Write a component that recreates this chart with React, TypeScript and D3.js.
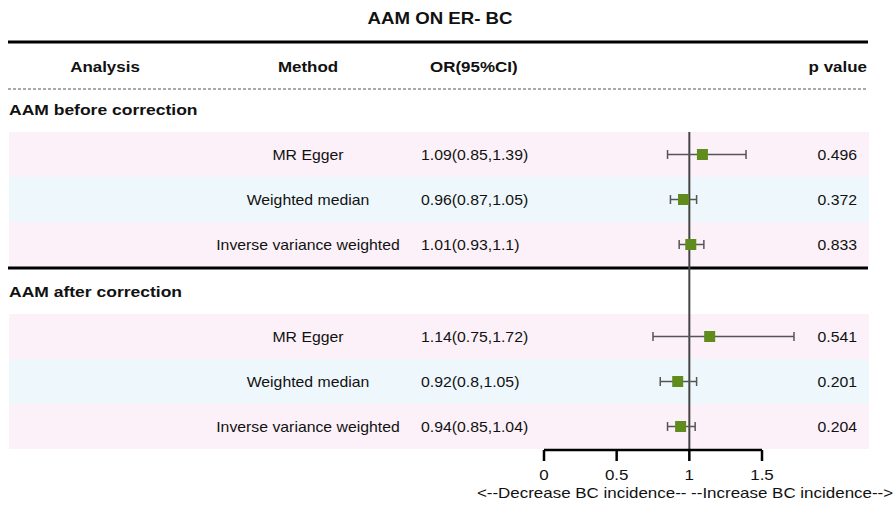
import React from 'react'
import * as d3 from 'd3'

// forest plot data
const groups = ['AAM before correction', 'AAM after correction']
const methods = ['MR Egger', 'Weighted median', 'Inverse variance weighted']
const orBefore = [1.09, 0.96, 1.01]
const lowBefore = [0.85, 0.87, 0.93]
const highBefore = [1.39, 1.05, 1.1]
const pBefore = ['0.496', '0.372', '0.833']
const orAfter = [1.14, 0.92, 0.94]
const lowAfter = [0.75, 0.8, 0.85]
const highAfter = [1.72, 1.05, 1.04]
const pAfter = ['0.541', '0.201', '0.204']
const ciBefore = ['1.09(0.85,1.39)', '0.96(0.87,1.05)', '1.01(0.93,1.1)']
const ciAfter = ['1.14(0.75,1.72)', '0.92(0.8,1.05)', '0.94(0.85,1.04)']
const xTicks = [0, 0.5, 1, 1.5]

const W = 895
const H = 509
const FONT = '"Liberation Sans", Arial, sans-serif'
const SX = 1.13 // the source text is a bit wider than tall
const PINK = '#fcf1f9'
const BLUE = '#eef8fc'
const GREEN = '#5f8c1c'

type Row = { method: string; or: number; lo: number; hi: number; ci: string; p: string }

const T = (props: {
    x: number; y: number; children: React.ReactNode; size?: number; bold?: boolean;
    anchor?: 'start' | 'middle' | 'end'; fill?: string
}) => (
    <text
        transform={`translate(${props.x},${props.y}) scale(${SX},1)`}
        fontFamily={FONT}
        fontSize={props.size ?? 14}
        fontWeight={props.bold ? 'bold' : 'normal'}
        textAnchor={props.anchor ?? 'start'}
        dominantBaseline="central"
        fill={props.fill ?? '#111'}
    >{props.children}</text>
)

export default function App() {
    const x = d3.scaleLinear().domain([0, 1.5]).range([544, 762])
    const bandBefore = d3.scaleBand<string>().domain(methods).range([132, 267])
    const bandAfter = d3.scaleBand<string>().domain(methods).range([314, 449])

    const before: Row[] = methods.map((m, i) => ({ method: m, or: orBefore[i], lo: lowBefore[i], hi: highBefore[i], ci: ciBefore[i], p: pBefore[i] }))
    const after: Row[] = methods.map((m, i) => ({ method: m, or: orAfter[i], lo: lowAfter[i], hi: highAfter[i], ci: ciAfter[i], p: pAfter[i] }))

    const axisY = 450

    const block = (rows: Row[], band: d3.ScaleBand<string>, key: string) => (
        <g key={key}>
            {rows.map((r, i) => {
                const y0 = band(r.method)!
                const h = band.bandwidth()
                const cy = y0 + h / 2
                return (
                    <g key={r.method}>
                        <rect x={9} y={y0} width={860} height={h} fill={i === 1 ? BLUE : PINK} />
                        <T x={308} y={cy} anchor="middle">{r.method}</T>
                        <T x={421} y={cy}>{r.ci}</T>
                        <T x={857} y={cy} anchor="end">{r.p}</T>
                    </g>
                )
            })}
        </g>
    )

    const marks = (rows: Row[], band: d3.ScaleBand<string>, key: string) => (
        <g key={key} stroke="#555" strokeWidth={1.5}>
            {rows.map(r => {
                const cy = band(r.method)! + band.bandwidth() / 2
                return (
                    <g key={r.method}>
                        <line x1={x(r.lo)} x2={x(r.hi)} y1={cy} y2={cy} />
                        <line x1={x(r.lo)} x2={x(r.lo)} y1={cy - 4.5} y2={cy + 4.5} />
                        <line x1={x(r.hi)} x2={x(r.hi)} y1={cy - 4.5} y2={cy + 4.5} />
                        <rect x={x(r.or) - 5.5} y={cy - 5.5} width={11} height={11} fill={GREEN} stroke="none" />
                    </g>
                )
            })}
        </g>
    )

    return (
        <svg width={W} height={H} style={{ position: 'absolute', left: 0, top: 0, background: '#fff' }}>
            <rect width={W} height={H} fill="#fff" />
            <T x={440} y={18} size={16.5} bold anchor="middle">AAM ON ER- BC</T>
            <line x1={8} x2={868} y1={42} y2={42} stroke="#000" strokeWidth={3} />

            <T x={105} y={67} size={15} bold anchor="middle">Analysis</T>
            <T x={308} y={67} size={15} bold anchor="middle">Method</T>
            <T x={430} y={67} size={15} bold>OR(95%CI)</T>
            <T x={867} y={67} size={15} bold anchor="end">p value</T>
            <line x1={8} x2={868} y1={89} y2={89} stroke="#555" strokeWidth={1} strokeDasharray="3,2" />

            <T x={9} y={110} size={15.5} bold>{groups[0]}</T>
            {block(before, bandBefore, 'b')}
            <line x1={8} x2={868} y1={268} y2={268} stroke="#000" strokeWidth={3} />
            <T x={9} y={292} size={15.5} bold>{groups[1]}</T>
            {block(after, bandAfter, 'a')}

            {/* reference line at OR = 1 */}
            <line x1={x(1)} x2={x(1)} y1={132} y2={axisY} stroke="#444" strokeWidth={2} />

            {marks(before, bandBefore, 'mb')}
            {marks(after, bandAfter, 'ma')}

            {/* x axis */}
            <g>
                <line x1={x(0)} x2={x(1.5)} y1={axisY} y2={axisY} stroke="#000" strokeWidth={2.5} />
                {xTicks.map(t => (
                    <g key={t}>
                        <line x1={x(t)} x2={x(t)} y1={axisY} y2={axisY + 11} stroke="#000" strokeWidth={2.5} />
                        <T x={x(t)} y={axisY + 25} size={15} anchor="middle">{String(t)}</T>
                    </g>
                ))}
                <T x={685} y={493} size={15} anchor="middle">{'<--Decrease BC incidence-- --Increase BC incidence-->'}</T>
            </g>
        </svg>
    )
}
